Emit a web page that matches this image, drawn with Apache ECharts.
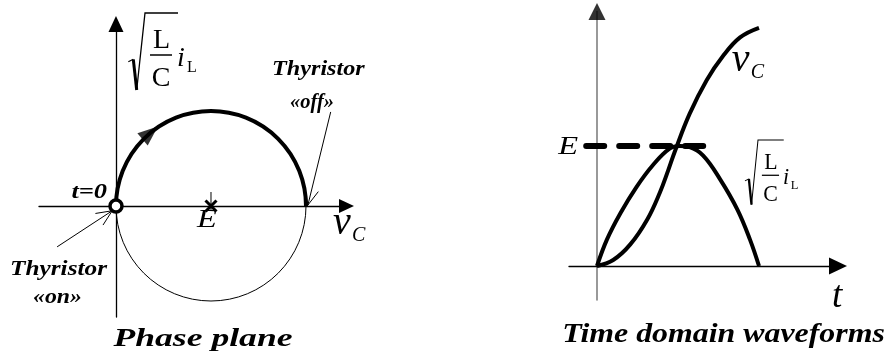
<!DOCTYPE html>
<html><head><meta charset="utf-8">
<script src="https://cdn.jsdelivr.net/npm/echarts@6/dist/echarts.min.js"></script>
<style>html,body{margin:0;padding:0;background:#fff}#c{width:887px;height:361px}</style>
</head><body><div id="c"></div>
<script>
// ---- Phase plane (vC on x, sqrt(L/C)·iL on y, normalised to E = 1) ----
const phaseCenter = [1, 0];          // centre of the trajectory (E, 0)
const phaseRadius = 1;               // radius of the trajectory (E)
const directionMark = [0.36, 0.77];  // arrowhead showing direction of travel
const startPoint = [0, 0];           // thyristor fires at t = 0
const leaders = [                    // [fromX, fromY, toX, toY]
  [-0.62, -0.43, -0.04, -0.05],      // "Thyristor «on»"
  [2.26, 0.99, 2.02, 0.01]           // "Thyristor «off»"
];

// ---- Time-domain waveforms (ωt in degrees, values normalised to E) ----
const tVc = [0, 18, 37, 56, 70, 79, 87, 103, 122, 140, 159, 180];
const vC  = [0, 0.05, 0.18, 0.39, 0.615, 0.795, 0.965, 1.27, 1.55, 1.75, 1.905, 1.985];
const tIl = [0, 11, 26, 44, 62, 81, 92, 103, 118, 137, 156, 170, 180];
const iL  = [0, 0.22, 0.44, 0.66, 0.84, 0.98, 1.0, 0.99, 0.92, 0.72, 0.47, 0.22, 0];
const eLevel = 1;
const eLineSpan = [-12, 118];

// axis ranges
const phaseX = [-0.8105, 2.4263], phaseY = [-1.1684, 1.9158];
const timeX = [-31.11, 267.78], timeY = [-0.2833, 2.1208];

const FAMILY = 'Liberation Serif';

function txt(x, base, text, size, o) {
  o = Object.assign({ weight: 'normal', style: 'italic', align: 'left', sx: 1 }, o || {});
  return {
    type: 'text', x: x, y: base - 0.3375 * size, scaleX: o.sx,
    style: {
      text: text, fill: '#000',
      fontFamily: FAMILY, fontSize: size, fontWeight: o.weight, fontStyle: o.style,
      align: o.align, verticalAlign: 'middle'
    }
  };
}

// square-root-of-L-over-C times iL, drawn from its parts
function rootLabel(x, y, sx, sy) {
  return {
    type: 'group', x: x, y: y, scaleX: sx, scaleY: sy,
    children: [
      { type: 'polyline', shape: { points: [[-16.7, 48.7], [-11.7, 46.3]] }, style: { stroke: '#000', lineWidth: 1.2, fill: null } },
      { type: 'line', shape: { x1: -11.7, y1: 46.3, x2: -8.3, y2: 77 }, style: { stroke: '#000', lineWidth: 3 } },
      { type: 'polyline', shape: { points: [[-8.3, 77], [0, 0], [33, 0]] }, style: { stroke: '#000', lineWidth: 1.3, fill: null } },
      { type: 'line', shape: { x1: 5, y1: 42, x2: 27, y2: 42 }, style: { stroke: '#000', lineWidth: 1.5 } },
      txt(16.5, 37, 'L', 28, { style: 'normal', align: 'center' }),
      txt(16, 75, 'C', 28, { style: 'normal', align: 'center' }),
      txt(32, 55, 'i', 28, {}),
      txt(42, 60, 'L', 16, { style: 'normal' })
    ]
  };
}

function vcLabel(x, base) {
  return { type: 'group', children: [
    txt(x, base + 6, 'v', 40, {}),
    txt(x + 19, base + 11.5, 'C', 20, {})
  ]};
}

const hidden = { axisTick: { show: false }, axisLabel: { show: false }, splitLine: { show: false } };

const chart = echarts.init(document.getElementById('c'), null, { renderer: 'canvas' });
chart.setOption({
  animation: false,
  backgroundColor: '#fff',
  grid: [
    { left: 39, right: 540.5, top: 24, bottom: 44 },
    { left: 569, right: 49, top: 11.5, bottom: 61 }
  ],
  xAxis: [
    Object.assign({ gridIndex: 0, type: 'value', min: phaseX[0], max: phaseX[1],
      axisLine: { onZero: true, symbol: ['none', 'triangle'], symbolSize: [14, 15], lineStyle: { color: '#000', width: 1.3 } } }, hidden),
    Object.assign({ gridIndex: 1, type: 'value', min: timeX[0], max: timeX[1],
      axisLine: { onZero: true, symbol: ['none', 'triangle'], symbolSize: [17, 18], lineStyle: { color: '#000', width: 1.3 } } }, hidden)
  ],
  yAxis: [
    Object.assign({ gridIndex: 0, type: 'value', min: phaseY[0], max: phaseY[1],
      axisLine: { onZero: true, symbol: ['none', 'triangle'], symbolSize: [15, 16], lineStyle: { color: '#000', width: 1.3 } } }, hidden),
    Object.assign({ gridIndex: 1, type: 'value', min: timeY[0], max: timeY[1],
      axisLine: { onZero: true, lineStyle: { color: '#808080', width: 1.6 } } }, hidden)
  ],
  series: [
    { // trajectory: thin lower half, thick upper half
      type: 'custom', xAxisIndex: 0, yAxisIndex: 0, clip: false,
      data: [[phaseCenter[0], phaseCenter[1], phaseRadius]],
      renderItem: function (params, api) {
        const c = api.coord([api.value(0), api.value(1)]);
        const s = api.size([api.value(2), api.value(2)]);
        const r = (Math.abs(s[0]) + Math.abs(s[1])) / 2;
        return { type: 'group', children: [
          { type: 'arc', shape: { cx: c[0], cy: c[1], r: r, startAngle: 0, endAngle: Math.PI, clockwise: true },
            style: { stroke: '#000', lineWidth: 1, fill: null } },
          { type: 'arc', shape: { cx: c[0], cy: c[1], r: r, startAngle: Math.PI, endAngle: 2 * Math.PI, clockwise: true },
            style: { stroke: '#000', lineWidth: 4, fill: null } }
        ]};
      }
    },
    { // equilibrium point E
      type: 'custom', xAxisIndex: 0, yAxisIndex: 0, clip: false,
      data: [[phaseCenter[0], phaseCenter[1]]],
      renderItem: function (params, api) {
        const p = api.coord([api.value(0), api.value(1)]);
        const d = 5.5;
        return { type: 'group', children: [
          { type: 'line', shape: { x1: p[0], y1: p[1] - 14, x2: p[0], y2: p[1] + 5 }, style: { stroke: '#000', lineWidth: 1 } },
          { type: 'line', shape: { x1: p[0] - d, y1: p[1] - d, x2: p[0] + d, y2: p[1] + d }, style: { stroke: '#000', lineWidth: 3 } },
          { type: 'line', shape: { x1: p[0] - d, y1: p[1] + d, x2: p[0] + d, y2: p[1] - d }, style: { stroke: '#000', lineWidth: 3 } }
        ]};
      }
    },
    { // leader arrows for the thyristor labels
      type: 'custom', xAxisIndex: 0, yAxisIndex: 0, clip: false,
      data: leaders,
      renderItem: function (params, api) {
        const a = api.coord([api.value(0), api.value(1)]);
        const b = api.coord([api.value(2), api.value(3)]);
        const ang = Math.atan2(b[1] - a[1], b[0] - a[0]);
        const L = 17, w = 0.42;
        const p1 = [b[0] - L * Math.cos(ang - w), b[1] - L * Math.sin(ang - w)];
        const p2 = [b[0] - L * Math.cos(ang + w), b[1] - L * Math.sin(ang + w)];
        return { type: 'group', children: [
          { type: 'line', shape: { x1: a[0], y1: a[1], x2: b[0], y2: b[1] }, style: { stroke: '#000', lineWidth: 1 } },
          { type: 'polyline', shape: { points: [p1, b, p2] }, style: { stroke: '#000', lineWidth: 1, fill: null } }
        ]};
      }
    },
    { // direction arrowhead on the trajectory
      type: 'scatter', xAxisIndex: 0, yAxisIndex: 0, clip: false, silent: true,
      data: [directionMark], symbol: 'triangle', symbolSize: [16, 20], symbolRotate: -50,
      itemStyle: { color: '#000' }, z: 5
    },
    { // start point
      type: 'scatter', xAxisIndex: 0, yAxisIndex: 0, clip: false, silent: true,
      data: [startPoint], symbol: 'circle', symbolSize: 12,
      itemStyle: { color: '#fff', borderColor: '#000', borderWidth: 3.5, opacity: 1 }, z: 6
    },
    { // level E
      type: 'line', xAxisIndex: 1, yAxisIndex: 1, clip: false, symbol: 'none', silent: true,
      data: [[eLineSpan[0], eLevel], [eLineSpan[1], eLevel]],
      lineStyle: { color: '#000', width: 6, type: [18, 15], cap: 'round' }
    },
    { // capacitor voltage
      type: 'line', xAxisIndex: 1, yAxisIndex: 1, clip: false, symbol: 'none', smooth: 0.4, silent: true,
      data: tVc.map(function (t, i) { return [t, vC[i]]; }),
      lineStyle: { color: '#000', width: 4 }
    },
    { // scaled inductor current
      type: 'line', xAxisIndex: 1, yAxisIndex: 1, clip: false, symbol: 'none', smooth: 0.4, silent: true,
      data: tIl.map(function (t, i) { return [t, iL[i]]; }),
      lineStyle: { color: '#000', width: 4 }
    },
    { // arrowhead of the grey vertical axis
      type: 'scatter', xAxisIndex: 1, yAxisIndex: 1, clip: false, silent: true,
      data: [[0, timeY[1]]], symbol: 'triangle', symbolSize: [17, 17],
      itemStyle: { color: '#000' }
    }
  ],
  graphic: [
    rootLabel(145, 13, 1, 1),
    rootLabel(758, 140, 0.78, 0.84),
    vcLabel(333, 231),
    vcLabel(731.7, 68.3),
    txt(207, 229, 'E', 26, { align: 'center', sx: 1.25 }),
    txt(578, 155.5, 'E', 26, { align: 'right', sx: 1.25 }),
    txt(832, 310, 't', 37, {}),
    txt(107, 200, 't=0', 22, { weight: 'bold', align: 'right', sx: 1.2 }),
    txt(272, 77, 'Thyristor', 22, { weight: 'bold', sx: 1.1 }),
    txt(290, 110, '«off»', 22, { weight: 'bold', sx: 0.93 }),
    txt(10, 277, 'Thyristor', 22, { weight: 'bold', sx: 1.15 }),
    txt(33, 305, '«on»', 22, { weight: 'bold', sx: 1.08 }),
    txt(203, 348, 'Phase plane', 26, { weight: 'bold', align: 'center', sx: 1.37 }),
    txt(723.5, 344, 'Time domain waveforms', 27, { weight: 'bold', align: 'center', sx: 1.18 })
  ]
});
</script>
</body></html>
